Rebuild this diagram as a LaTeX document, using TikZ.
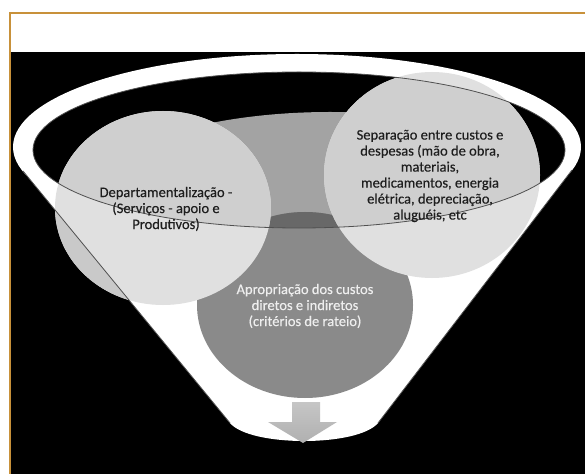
\documentclass[tikz,border=0pt]{standalone}
\usepackage{fontspec}
\setmainfont{Carlito}
\newfontfamily\txtfont{Carlito}[FakeBold=0.35]
\definecolor{bordercol}{HTML}{C8913A}
\definecolor{regA}{HTML}{A3A3A3}
\definecolor{apC}{HTML}{8A8A8A}
\definecolor{apB}{HTML}{686868}
\definecolor{bubbleW}{HTML}{E0E0E0}
\definecolor{bubbleK}{HTML}{CFCFCF}
\definecolor{bubbleO}{HTML}{C9C9C9}
\definecolor{linecol}{HTML}{505050}
\definecolor{darktext}{HTML}{1E1E1E}
\definecolor{lighttext}{HTML}{EEEEEE}
\tikzset{
  borderline/.style={draw=bordercol, line width=2bp},
  thinline/.style={draw=linecol, line width=0.8bp},
  txt/.style={align=center, inner sep=0pt, font={\txtfont\fontsize{14.5bp}{16bp}\selectfont}},
  txtdark/.style={txt, text=darktext},
  txtlight/.style={txt, text=lighttext},
  innerell/.style={x radius=266bp, y radius=78bp},
  depell/.style={x radius=108bp, y radius=97bp},
  sepell/.style={x radius=108bp, y radius=103bp}
}
\begin{document}
\begin{tikzpicture}[x=1bp,y=-1bp]
\useasboundingbox (0,0) rectangle (585,474);
\fill[white] (0,0) rectangle (585,474);
\fill[black] (11,52) rectangle (585,474);
\draw[borderline] (10,474) -- (10,13) -- (585,13);
% funnel
\coordinate (LT) at (23,171);
\coordinate (RT) at (572,170);
\coordinate (LB) at (230,423);
\coordinate (RB) at (378,423);
\coordinate (rim) at (297,147);
\coordinate (inner) at (299,150);
\fill[white] (rim) ellipse [x radius=284bp, y radius=93bp];
\fill[white] (LT) -- (rim) -- (RT) -- (RB) .. controls (358,447) and (250,447) .. (LB) -- cycle;
\fill[black] (inner) ellipse [innerell];
% middle gray region
\begin{scope}
  \clip (inner) ellipse [innerell];
  \clip (180,60) rectangle (480,260);
  \fill[regA] (330,212) ellipse [x radius=260bp, y radius=100bp];
\end{scope}
% bottom circle
\coordinate (apc) at (305,305);
\fill[apC] (apc) ellipse [x radius=108bp, y radius=93bp];
\begin{scope}
  \clip (inner) ellipse [innerell];
  \fill[apB] (apc) ellipse [x radius=108bp, y radius=93bp];
\end{scope}
% bubbles
\coordinate (depc) at (163,208);
\coordinate (sepc) at (432,175);
\fill[bubbleW] (depc) ellipse [depell];
\fill[bubbleW] (sepc) ellipse [sepell];
\begin{scope}
  \clip (inner) ellipse [innerell];
  \fill[bubbleK] (depc) ellipse [depell];
  \fill[bubbleK] (sepc) ellipse [sepell];
\end{scope}
\begin{scope}
  \clip (0,171) -- (LT) -- (LB) -- (230,474) -- (0,474) -- cycle;
  \fill[bubbleO] (depc) ellipse [depell];
\end{scope}
% outlines
\draw[thinline] (inner) ellipse [innerell];
\draw[thinline] (LT) -- (LB);
\draw[thinline] (RT) -- (RB);
% arrow
\shade[top color=gray!45, bottom color=gray!62]
  (292,402) -- (320,402) -- (320,422) -- (337,422) -- (303,443) -- (268,422) -- (292,422) -- cycle;
% texts
\node[txtdark] (t1) at (166,209) {Departamentalização -\\(Serviços - apoio e\\Produtivos)};
\node[txtdark] (t2) at (430,176) {Separação entre custos e\\despesas (mão de obra,\\materiais,\\medicamentos, energia\\elétrica, depreciação,\\aluguéis, etc};
\node[txtlight] (t3) at (305,306) {Apropriação dos custos\\diretos e indiretos\\(critérios de rateio)};
\end{tikzpicture}
\end{document}
